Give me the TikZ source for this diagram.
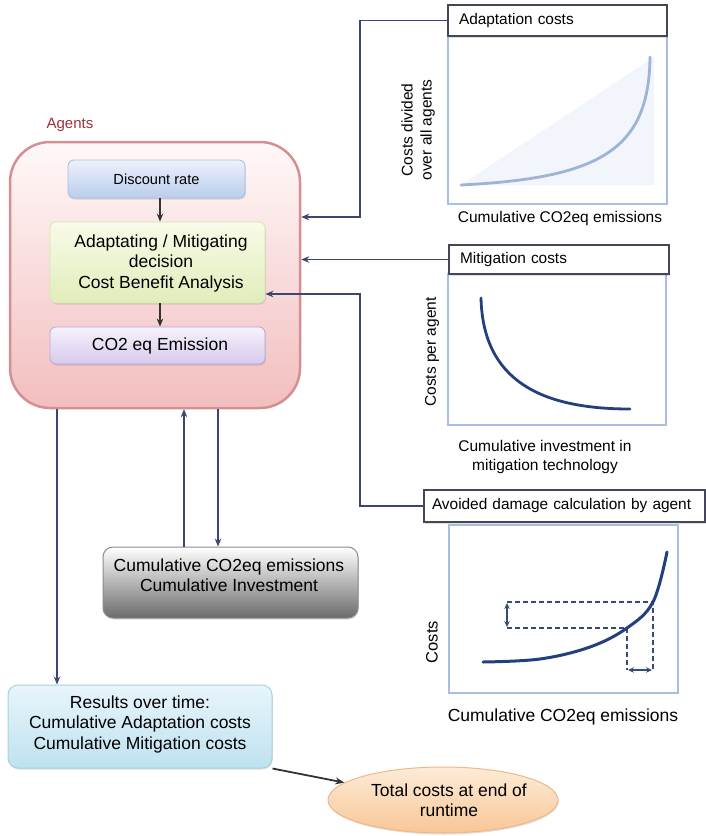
\documentclass[tikz,border=0pt]{standalone}
\usepackage{fontspec}
\setmainfont{Liberation Sans}
\usetikzlibrary{arrows.meta,shapes.geometric,shadows,calc}
\definecolor{connc}{HTML}{3B4674}
\definecolor{agentred}{HTML}{A0303A}
\definecolor{agentedge}{HTML}{D58E92}
\definecolor{framec}{HTML}{A9BDE6}
\definecolor{titlec}{HTML}{45465A}
\definecolor{curvelight}{HTML}{9DB3D8}
\definecolor{curvedark}{HTML}{243F7E}
\definecolor{shadec}{HTML}{F2F5FB}
\definecolor{dashc}{HTML}{3A4A78}
\tikzset{
  conn/.style={draw=connc, line width=1.5pt, -{Stealth[length=8pt,width=6.5pt]}},
  softshadow/.style={drop shadow={opacity=0.25,shadow xshift=0.8pt,shadow yshift=-1.5pt}},
  inbox/.style={rounded corners=6pt, line width=0.8pt, softshadow},
  bigtext/.style={font=\fontsize{17.5}{20.5}\selectfont, align=center},
  titlebox/.style={draw=titlec, line width=1.3pt, fill=white, inner xsep=11pt, align=left,
     font=\fontsize{15.4}{18}\selectfont, softshadow},
  chartframe/.style={draw=framec, line width=1.3pt, fill=white},
  axislabel/.style={font=\fontsize{15.5}{19}\selectfont, align=center},
  innerarrow/.style={draw=black!80, line width=1.4pt, -{Stealth[length=8pt,width=6.5pt]}},
}
\begin{document}
\begin{tikzpicture}[x=1pt,y=-1pt]
\useasboundingbox (0,0) rectangle (706,836);

% Agents container
\node[draw=agentedge, line width=2.5pt, rounded corners=40pt, top color=white!90!pink, bottom color={rgb,255:red,242;green,190;blue,190},
      minimum width=290, minimum height=266] (agents) at (155,275) {};
\node[font=\fontsize{15}{18}\selectfont, text=agentred] (agentslbl) at (70,125) {Agents};

% inner boxes
\node[inbox, draw={rgb,255:red,168;green,188;blue,222}, top color={rgb,255:red,236;green,242;blue,252}, bottom color={rgb,255:red,186;green,205;blue,236},
      minimum width=177, minimum height=38] (discount) at (156.5,179) {};
\node[font=\fontsize{14.6}{17}\selectfont] (discounttxt) at (156.5,179) {Discount rate};

\node[inbox, draw={rgb,255:red,216;green,228;blue,176}, top color={rgb,255:red,248;green,251;blue,232}, bottom color={rgb,255:red,224;green,237;blue,186},
      minimum width=215, minimum height=81] (decision) at (157.5,262.5) {};
\node[bigtext] (decisiontxt) at (161,263) {Adaptating / Mitigating\\decision\\Cost Benefit Analysis};

\node[inbox, draw={rgb,255:red,184;green,168;blue,216}, top color={rgb,255:red,246;green,242;blue,252}, bottom color={rgb,255:red,214;green,202;blue,236},
      minimum width=215, minimum height=37] (emission) at (157.5,345.5) {};
\node[bigtext] (emissiontxt) at (160,346) {CO2 eq Emission};

\draw[innerarrow] (discount.south -| 160,0) -- (decision.north -| 160,0);
\draw[innerarrow] (decision.south -| 160,0) -- (emission.north -| 160,0);

% Cumulative box
\node[rounded corners=10pt, draw=black!45, line width=1pt, top color=white, bottom color=black!58, softshadow,
      minimum width=255, minimum height=71] (cum) at (230.5,582.5) {};
\node[bigtext] (cumtxt) at (229,575) {Cumulative CO2eq emissions\\Cumulative Investment};

% Results box
\node[rounded corners=10pt, draw={rgb,255:red,168;green,208;blue,224}, line width=1pt, top color={rgb,255:red,232;green,245;blue,251}, bottom color={rgb,255:red,190;green,226;blue,240}, softshadow,
      minimum width=264, minimum height=83] (results) at (140,726.5) {};
\node[bigtext] (resultstxt) at (140,724) {Results over time:\\Cumulative Adaptation costs\\Cumulative Mitigation costs};

% Total ellipse
\node[ellipse, draw={rgb,255:red,240;green,184;blue,136}, line width=1pt, top color={rgb,255:red,253;green,236;blue,216}, bottom color={rgb,255:red,248;green,198;blue,150}, softshadow,
      minimum width=230, minimum height=66, inner sep=0pt] (total) at (443,800) {};
\node[bigtext] (totaltxt) at (449,800) {Total costs at end of\\runtime};

% ---------- Adaptation chart ----------
\node[chartframe, minimum width=219, minimum height=168] (adframe) at (557.5,120) {};
\fill[shadec] (461,185) -- (654,57) -- (654,185) -- cycle;
\draw[curvelight, line width=2.8pt, line cap=round] (461,185) .. controls (600,178) and (649,150) .. (650,57);
\node[titlebox, minimum width=219, minimum height=31, text width=197] (adtitle) at (557.5,20.5) {Adaptation costs};
\node[axislabel, rotate=90] (adylab) at (418,130) {Costs divided\\over all agents};
\node[axislabel] (adxlab) at (560,218) {Cumulative CO2eq emissions};

% ---------- Mitigation chart ----------
\node[chartframe, minimum width=218, minimum height=151] (miframe) at (557,349.5) {};
\draw[curvedark, line width=2.8pt, line cap=round] (481,298) .. controls (483,380) and (540,409) .. (630,409);
\node[titlebox, minimum width=220, minimum height=29, text width=198] (mititle) at (559,259.5) {Mitigation costs};
\node[axislabel, rotate=90] (miylab) at (432,352) {Costs per agent};
\node[axislabel] (mixlab) at (545,457) {Cumulative investment in\\mitigation technology};

% ---------- Avoided damage chart ----------
\node[chartframe, minimum width=229, minimum height=168] (avframe) at (563.5,609) {};
\draw[dashc, line width=1.3pt, dash pattern=on 5pt off 3pt] (507,602) -- (653,602) -- (653,670);
\draw[dashc, line width=1.3pt, dash pattern=on 5pt off 3pt] (507,628) -- (627,628) -- (627,670);
\draw[dashc, line width=1.3pt, {Stealth[length=6pt,width=5.5pt]}-{Stealth[length=6pt,width=5.5pt]}] (507,603) -- (507,627);
\draw[dashc, line width=1.3pt, {Stealth[length=6pt,width=5.5pt]}-{Stealth[length=6pt,width=5.5pt]}] (628,670) -- (652,670);
\draw[curvedark, line width=3pt, line cap=round] plot[smooth, tension=0.6] coordinates {(483,662) (540,659) (590,647) (627,628) (653,602) (667,552)};
\node[titlebox, inner xsep=8pt, minimum width=281, minimum height=32, text width=265] (avtitle) at (564.5,506) {Avoided damage calculation by agent};
\node[font=\fontsize{16.5}{19}\selectfont, rotate=90] (avylab) at (432,642) {Costs};
\node[bigtext] (avxlab) at (563,717) {Cumulative CO2eq emissions};

% ---------- Connectors ----------
\coordinate (adbend) at (360,217);
\coordinate (avbend) at (360,294);
\draw[conn] (adtitle.west) -| (adbend) -- (agents.east |- adbend);
\draw[conn] (mititle.west) -- (agents.east |- mititle.west);
\draw[conn] (avtitle.west) -| (avbend) -- (decision.east |- avbend);

\coordinate (downres) at (57,0);
\coordinate (upcum) at (184,0);
\coordinate (downcum) at (218,0);
\draw[conn] (agents.south -| downres) -- (results.north -| downres);
\draw[conn] (cum.north -| upcum) -- (agents.south -| upcum);
\draw[conn] (agents.south -| downcum) -- (cum.north -| downcum);
\draw[draw=black!80, line width=1.8pt, -{Stealth[length=9pt,width=7pt]}] (results.south east) -- (total.170);
\end{tikzpicture}
\end{document}
